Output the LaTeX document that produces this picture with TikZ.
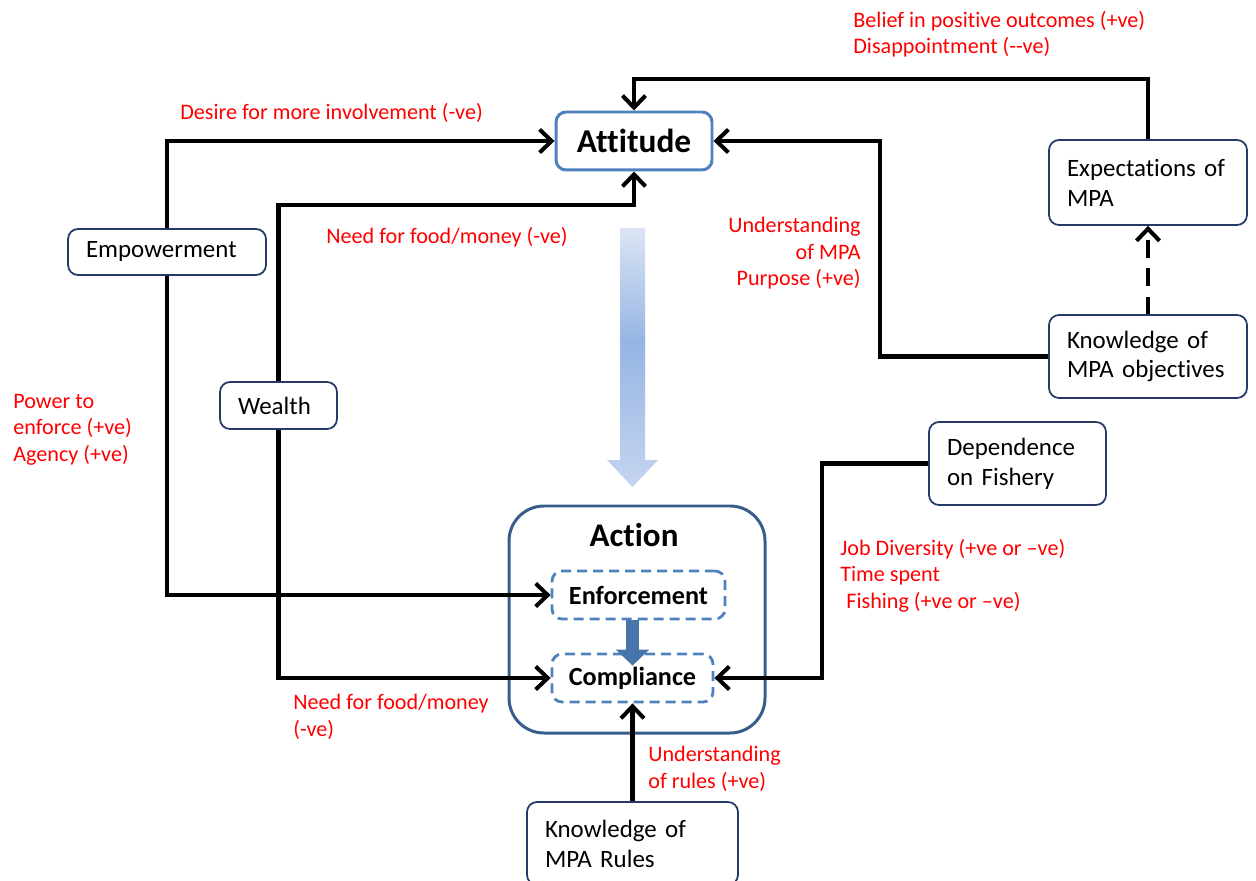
\documentclass[tikz,border=0pt]{standalone}
\usepackage{fontspec}
\setmainfont{Carlito}[Ligatures=NoCommon]
\usepackage{tikz}
\usetikzlibrary{calc,arrows.meta,backgrounds}
\definecolor{navyline}{RGB}{38,58,106}
\definecolor{attblue}{RGB}{79,129,189}
\definecolor{actblue}{RGB}{56,93,138}
\definecolor{shadetop}{RGB}{220,229,244}
\definecolor{shademid}{RGB}{150,181,228}
\definecolor{shadebot}{RGB}{198,213,240}
\newcommand{\linkwidth}{2.3pt}
\newcommand{\redsize}{\fontsize{12.6}{15}\selectfont}
\newcommand{\boxsize}{\fontsize{14.2}{17}\selectfont}
\tikzset{
  smallbox/.style={draw=navyline, line width=1pt, rounded corners=0.2cm, align=left,
    inner xsep=0.36cm, inner ysep=0pt, font=\boxsize},
  redtext/.style={text=red, inner sep=0pt, align=left, font=\redsize},
  dashbox/.style={draw=attblue, line width=1.6pt, dash pattern=on 5.7pt off 3.4pt,
    rounded corners=0.2cm, minimum height=0.96cm, inner sep=0pt,
    font=\bfseries\fontsize{14.9}{17}\selectfont},
  link/.style={line width=\linkwidth, -{Straight Barb[length=2.4mm,width=4.6mm]}},
}

\begin{document}
\begin{tikzpicture}[x=0.02cm, y=-0.02cm]
\useasboundingbox (0,0) rectangle (1256,881);
\clip (0,0) rectangle (1256,881);
%boxes
\node[draw=attblue, line width=1.7pt, rounded corners=0.2cm, minimum width=3.12cm,
  minimum height=1.16cm, font=\bfseries\fontsize{19}{21}\selectfont] (att) at (634,141) {Attitude};
\draw[actblue, line width=1.7pt, rounded corners=0.7cm] (509,506) rectangle (765,733);
\node[font=\bfseries\fontsize{18.8}{21}\selectfont] (act) at (634,535) {Action};
\node[dashbox, minimum width=3.46cm] (enf) at (638.5,595) {Enforcement};
\node[dashbox, minimum width=3.22cm] (comp) at (632.5,678) {Compliance};
\node[smallbox, text width=3.24cm, minimum height=0.92cm] (emp) at (167,252) {Empowerment};
\node[smallbox, text width=1.62cm, minimum height=0.94cm] (wealth) at (278.5,405.5) {Wealth};
\node[smallbox, text width=3.24cm, minimum height=1.7cm] (expect) at (1148,182.5) {Expectations of\\MPA};
\node[smallbox, text width=3.24cm, minimum height=1.66cm] (knowobj) at (1148,356.5) {Knowledge of\\MPA objectives};
\node[smallbox, text width=2.82cm, minimum height=1.66cm] (depend) at (1017.5,463.5) {Dependence\\on Fishery};
\node[smallbox, text width=3.5cm, minimum height=1.66cm] (knowrules) at (632.5,843.5) {Knowledge of\\MPA Rules};
%big arrow
\begin{scope}
\clip (620,228) -- (645,228) -- (645,460) -- (658,460) -- (632.5,487) -- (607,460) -- (620,460) -- cycle;
\shade[top color=shadetop, bottom color=shademid] (600,226) rectangle (665,342);
\shade[top color=shademid, bottom color=shadebot] (600,341) rectangle (665,490);
\end{scope}
\draw[attblue!90!black, line width=7pt, -{Triangle[length=3.2mm,width=6.5mm]}]
  (comp.north |- enf.south) -- ($(comp.north)+(0,13)$);
%links
\coordinate (wa) at (278.5,205);
\coordinate (ea) at (634,79);
\coordinate (ka) at (880,141);
\coordinate (dc) at (822,678);
\draw[link] (emp.north) |- (att.west);
\draw[link] (emp.south) |- (enf.west);
\draw[link] (wealth.north) -- (wa) -| (att.south);
\draw[link] (wealth.south) |- (comp.west);
\draw[link] (expect.north) |- (ea) -- (att.north);
\draw[link] (knowobj.west) -| (ka) -- (att.east);
\draw[link, dash pattern=on 10pt off 6pt] (knowobj.north) -- (expect.south);
\draw[link] (depend.west) -| (dc) -- (comp.east);
\draw[link] (knowrules.north) -- (comp.south);
%labels
\node[redtext, anchor=north west] (lbelief) at (853,11) {Belief in positive outcomes (+ve)\\Disappointment (-{}-ve)};
\node[redtext, anchor=north west] (ldesire) at (180,103) {Desire for more involvement (-ve)};
\node[redtext, anchor=north west] (lneed) at (326,227) {Need for food/money (-ve)};
\node[redtext, anchor=north east, align=right] (lpurpose) at (861,217) {Understanding\\of MPA\hspace*{0.1cm}\\Purpose (+ve)};
\node[redtext, anchor=north west] (lpower) at (13,394) {Power to\\enforce (+ve)\\Agency (+ve)};
\node[redtext, anchor=north west] (ljob) at (840,539) {Job Diversity (+ve or –ve)\\Time spent\\\hspace*{0.12cm}Fishing (+ve or –ve)};
\node[redtext, anchor=north west] (lneedb) at (293,694) {Need for food/money\\(-ve)};
\node[redtext, anchor=north west] (lrules) at (648,746) {Understanding\\of rules (+ve)};
\end{tikzpicture}
\end{document}
